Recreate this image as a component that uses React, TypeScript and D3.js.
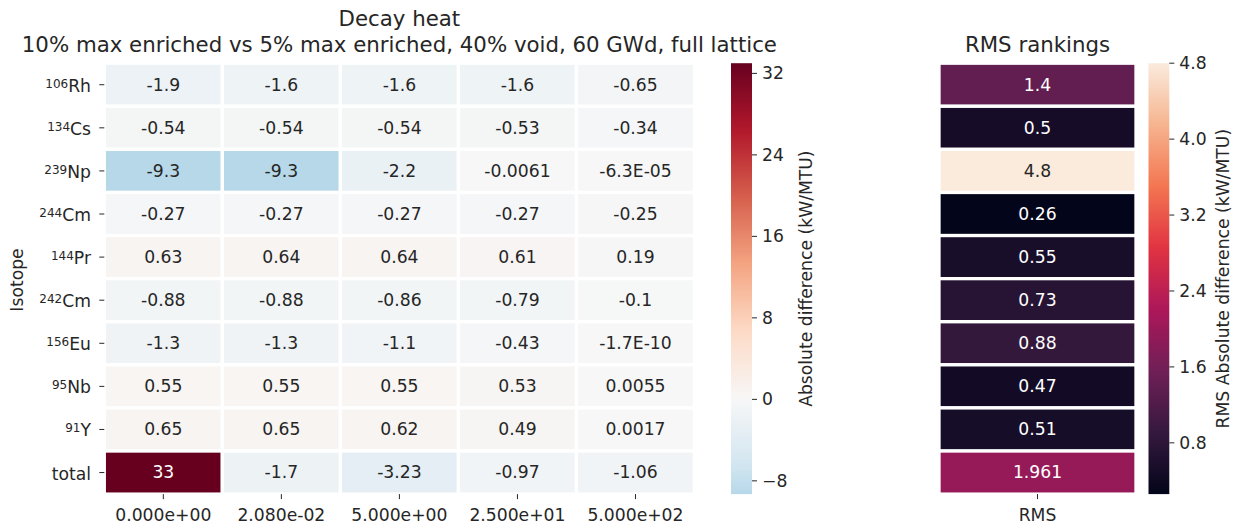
import React from "react";
import * as d3 from "d3";

// Isotope rows (mass number shown as a superscript; the summary row has none)
const massNumbers = ["106", "134", "239", "244", "144", "242", "156", "95", "91", ""];
const elements = ["Rh", "Cs", "Np", "Cm", "Pr", "Cm", "Eu", "Nb", "Y", "total"];

// Cooling-time columns
const coolingTimes = ["0.000e+00", "2.080e-02", "5.000e+00", "2.500e+01", "5.000e+02"];

// Decay-heat differences per isotope (kW/MTU), as annotated
const rhValues = ["-1.9", "-1.6", "-1.6", "-1.6", "-0.65"];
const csValues = ["-0.54", "-0.54", "-0.54", "-0.53", "-0.34"];
const npValues = ["-9.3", "-9.3", "-2.2", "-0.0061", "-6.3E-05"];
const cm244Values = ["-0.27", "-0.27", "-0.27", "-0.27", "-0.25"];
const prValues = ["0.63", "0.64", "0.64", "0.61", "0.19"];
const cm242Values = ["-0.88", "-0.88", "-0.86", "-0.79", "-0.1"];
const euValues = ["-1.3", "-1.3", "-1.1", "-0.43", "-1.7E-10"];
const nbValues = ["0.55", "0.55", "0.55", "0.53", "0.0055"];
const yValues = ["0.65", "0.65", "0.62", "0.49", "0.0017"];
const totalValues = ["33", "-1.7", "-3.23", "-0.97", "-1.06"];

// RMS of the differences per isotope
const rmsLabels = ["1.4", "0.5", "4.8", "0.26", "0.55", "0.73", "0.88", "0.47", "0.51", "1.961"];

const diffTicks = [-8, 0, 8, 16, 24, 32];
const rmsTicks = [0.8, 1.6, 2.4, 3.2, 4.0, 4.8];

const diffRows = [rhValues, csValues, npValues, cm244Values, prValues, cm242Values, euValues, nbValues, yValues, totalValues];

// Diverging RdBu (reversed: blue -> white -> red)
const rdbuColors = ["#053061", "#2166ac", "#4393c3", "#92c5de", "#d1e5f0", "#f7f7f7", "#fddbc7", "#f4a582", "#d6604d", "#b2182b", "#67001f"];
// Sequential "rocket"
const rocketColors = ["#03051a", "#35193e", "#701f57", "#ad1759", "#e13342", "#f37651", "#f6b48f", "#faebdd"];

const FONT = "DejaVu Sans";
const INK = "#262626";

function luminance(c: string) {
  const rgb = d3.rgb(c);
  const lin = (v: number) => {
    const s = v / 255;
    return s <= 0.03928 ? s / 12.92 : Math.pow((s + 0.055) / 1.055, 2.4);
  };
  return 0.2126 * lin(rgb.r) + 0.7152 * lin(rgb.g) + 0.0722 * lin(rgb.b);
}
const textOn = (bg: string) => (luminance(bg) > 0.408 ? INK : "#ffffff");

export default function App() {
  const rowKeys = elements.map((e, i) => `${massNumbers[i]}${e}`);
  const diffNums = diffRows.map((r) => r.map((s) => +s));
  const rmsNums = rmsLabels.map((s) => +s);

  const top = 63.2;
  const bottom = 494.1;

  const x = d3.scaleBand<string>().domain(coolingTimes).range([104.3, 694.5]);
  const xr = d3.scaleBand<string>().domain(["RMS"]).range([939, 1136]);
  const y = d3.scaleBand<string>().domain(rowKeys).range([top, bottom]);

  const diffExtent = d3.extent(diffNums.flat()) as [number, number];
  const rmsExtent = d3.extent(rmsNums) as [number, number];
  const half = Math.max(Math.abs(diffExtent[0]), Math.abs(diffExtent[1]));

  const rdbu = d3
    .scaleLinear<string>()
    .domain(d3.range(rdbuColors.length).map((i) => i / (rdbuColors.length - 1)))
    .range(rdbuColors)
    .interpolate(d3.interpolateRgb)
    .clamp(true);
  const diffColor = (v: number) => rdbu(0.5 + v / (2 * half));

  const rocket = d3
    .scaleLinear<string>()
    .domain(d3.range(rocketColors.length).map((i) => i / (rocketColors.length - 1)))
    .range(rocketColors)
    .interpolate(d3.interpolateRgb)
    .clamp(true);
  const rmsColor = (v: number) => rocket((v - rmsExtent[0]) / (rmsExtent[1] - rmsExtent[0]));

  const cb1 = d3.scaleLinear().domain(diffExtent).range([bottom, top]);
  const cb2 = d3.scaleLinear().domain(rmsExtent).range([bottom, top]);

  const nStops = 80;
  const stops1 = d3.range(nStops + 1).map((i) => {
    const v = diffExtent[1] - (i / nStops) * (diffExtent[1] - diffExtent[0]);
    return { offset: `${(i / nStops) * 100}%`, color: diffColor(v) };
  });
  const stops2 = d3.range(nStops + 1).map((i) => {
    const v = rmsExtent[1] - (i / nStops) * (rmsExtent[1] - rmsExtent[0]);
    return { offset: `${(i / nStops) * 100}%`, color: rmsColor(v) };
  });

  const cellStroke = 3.3;
  const fs = 17.2;
  const titleFs = 21.3;

  const cb1x = 731;
  const cb1w = 21;
  const cb2x = 1148.5;
  const cb2w = 20.8;

  return (
    <svg
      width={1240}
      height={529}
      style={{ position: "absolute", left: 0, top: 0, background: "#fff" }}
      fontFamily={FONT}
    >
      <defs>
        <linearGradient id="cbDiff" x1="0" y1="0" x2="0" y2="1">
          {stops1.map((s, i) => (
            <stop key={i} offset={s.offset} stopColor={s.color} />
          ))}
        </linearGradient>
        <linearGradient id="cbRms" x1="0" y1="0" x2="0" y2="1">
          {stops2.map((s, i) => (
            <stop key={i} offset={s.offset} stopColor={s.color} />
          ))}
        </linearGradient>
      </defs>

      {/* Titles */}
      <text x={399.4} y={26} textAnchor="middle" fontSize={titleFs} fill={INK}>
        Decay heat
      </text>
      <text x={399.4} y={51.5} textAnchor="middle" fontSize={titleFs} fill={INK}>
        10% max enriched vs 5% max enriched, 40% void, 60 GWd, full lattice
      </text>
      <text x={1037.5} y={52} textAnchor="middle" fontSize={titleFs} fill={INK}>
        RMS rankings
      </text>

      {/* Difference heatmap */}
      <g>
        {diffNums.map((row, ri) =>
          row.map((v, ci) => {
            const col = coolingTimes[ci];
            const bg = diffColor(v);
            const cx = (x(col) as number) + x.bandwidth() / 2;
            const cy = (y(rowKeys[ri]) as number) + y.bandwidth() / 2;
            return (
              <g key={`${ri}-${ci}`}>
                <rect
                  x={x(col)}
                  y={y(rowKeys[ri])}
                  width={x.bandwidth()}
                  height={y.bandwidth()}
                  fill={bg}
                  stroke="#ffffff"
                  strokeWidth={cellStroke}
                />
                <text x={cx} y={cy + 5.8} textAnchor="middle" fontSize={fs} fill={textOn(bg)}>
                  {diffRows[ri][ci]}
                </text>
              </g>
            );
          })
        )}
      </g>

      {/* Y axis: isotope labels */}
      <g>
        {rowKeys.map((k, i) => {
          const cy = (y(k) as number) + y.bandwidth() / 2;
          return (
            <g key={k}>
              <line x1={99.3} x2={104.3} y1={cy} y2={cy} stroke={INK} strokeWidth={1} />
              <text x={91} y={cy + 7} textAnchor="end" fontSize={fs} fill={INK}>
                {massNumbers[i] ? (
                  <>
                    <tspan fontSize={12} dy={-4}>
                      {massNumbers[i]}
                    </tspan>
                    <tspan dy={4}>{elements[i]}</tspan>
                  </>
                ) : (
                  elements[i]
                )}
              </text>
            </g>
          );
        })}
        <text transform={`translate(23,280) rotate(-90)`} textAnchor="middle" fontSize={fs} fill={INK}>
          Isotope
        </text>
      </g>

      {/* X axis: cooling times */}
      <g>
        {coolingTimes.map((c) => {
          const cx = (x(c) as number) + x.bandwidth() / 2;
          return (
            <g key={c}>
              <line x1={cx} x2={cx} y1={bottom} y2={bottom + 5} stroke={INK} strokeWidth={1} />
              <text x={cx} y={521} textAnchor="middle" fontSize={fs} fill={INK}>
                {c}
              </text>
            </g>
          );
        })}
      </g>

      {/* Difference colorbar */}
      <g>
        <rect x={cb1x} y={top} width={cb1w} height={bottom - top} fill="url(#cbDiff)" />
        {diffTicks.map((t) => (
          <g key={t}>
            <line x1={cb1x + cb1w} x2={cb1x + cb1w + 5} y1={cb1(t)} y2={cb1(t)} stroke={INK} strokeWidth={1} />
            <text x={cb1x + cb1w + 10} y={cb1(t) + 6} fontSize={fs} fill={INK}>
              {String(t).replace("-", "\u2212")}
            </text>
          </g>
        ))}
        <text
          transform={`translate(812,${(top + bottom) / 2}) rotate(-90)`}
          textAnchor="middle"
          fontSize={fs}
          fill={INK}
        >
          Absolute difference (kW/MTU)
        </text>
      </g>

      {/* RMS heatmap */}
      <g>
        {rmsNums.map((v, ri) => {
          const bg = rmsColor(v);
          const cx = (xr("RMS") as number) + xr.bandwidth() / 2;
          const cy = (y(rowKeys[ri]) as number) + y.bandwidth() / 2;
          return (
            <g key={ri}>
              <rect
                x={xr("RMS")}
                y={y(rowKeys[ri])}
                width={xr.bandwidth()}
                height={y.bandwidth()}
                fill={bg}
                stroke="#ffffff"
                strokeWidth={cellStroke}
              />
              <text x={cx} y={cy + 5.8} textAnchor="middle" fontSize={fs} fill={textOn(bg)}>
                {rmsLabels[ri]}
              </text>
            </g>
          );
        })}
        <line
          x1={(xr("RMS") as number) + xr.bandwidth() / 2}
          x2={(xr("RMS") as number) + xr.bandwidth() / 2}
          y1={bottom}
          y2={bottom + 5}
          stroke={INK}
          strokeWidth={1}
        />
        <text
          x={(xr("RMS") as number) + xr.bandwidth() / 2}
          y={521}
          textAnchor="middle"
          fontSize={fs}
          fill={INK}
        >
          RMS
        </text>
      </g>

      {/* RMS colorbar */}
      <g>
        <rect x={cb2x} y={top} width={cb2w} height={bottom - top} fill="url(#cbRms)" />
        {rmsTicks.map((t) => (
          <g key={t}>
            <line x1={cb2x + cb2w} x2={cb2x + cb2w + 5} y1={cb2(t)} y2={cb2(t)} stroke={INK} strokeWidth={1} />
            <text x={cb2x + cb2w + 10} y={cb2(t) + 6} fontSize={fs} fill={INK}>
              {t.toFixed(1)}
            </text>
          </g>
        ))}
        <text
          transform={`translate(1229,${(top + bottom) / 2}) rotate(-90)`}
          textAnchor="middle"
          fontSize={fs}
          fill={INK}
        >
          RMS Absolute difference (kW/MTU)
        </text>
      </g>
    </svg>
  );
}
